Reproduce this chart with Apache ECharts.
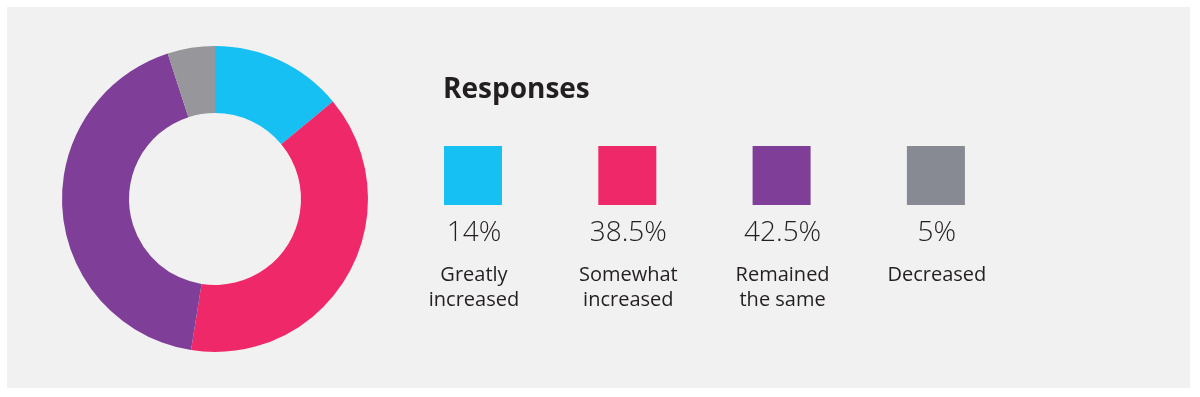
<!DOCTYPE html>
<html>
<head>
<meta charset="utf-8">
<title>Responses</title>
<script src="https://cdn.jsdelivr.net/npm/echarts@6/dist/echarts.min.js"></script>
<style>
    html, body { margin: 0; padding: 0; background: #ffffff; }
    #chart { width: 1200px; height: 397px; }
</style>
</head>
<body>
<div id="chart"></div>
<script>
// data
var categories = ["Greatly\nincreased", "Somewhat\nincreased", "Remained\nthe same", "Decreased"];
var shares = [14, 38.5, 42.5, 5];
var shareLabels = ["14%", "38.5%", "42.5%", "5%"];

// colours
var sliceColors = ["#17c0f2", "#ef2869", "#7f3f98", "#97979b"];
var keyColors = ["#17c0f2", "#ef2869", "#7f3f98", "#878a93"];
var inkColor = "#231f20";
var fontName = "'Open Sans', Lato, sans-serif";

var chart = echarts.init(document.getElementById("chart"));

var graphics = [
    {
        type: "rect",
        z: -10,
        silent: true,
        shape: { x: 7, y: 7, width: 1183, height: 381 },
        style: { fill: "#f1f1f1" }
    },
    {
        type: "text",
        left: 443,
        top: 76,
        style: {
            text: "Responses",
            fill: inkColor,
            font: "bold 28px " + fontName
        }
    }
];

// the key: square, percentage and name under each other
categories.forEach(function (name, i) {
    var x = 444 + i * 154.3;
    var cx = x + 29;
    graphics.push({
        type: "rect",
        shape: { x: x, y: 146, width: 58, height: 59 },
        style: { fill: keyColors[i] }
    });
    graphics.push({
        type: "text",
        x: cx + 1,
        y: 233,
        style: {
            text: shareLabels[i],
            fill: inkColor,
            font: "300 28px " + fontName,
            textAlign: "center",
            textVerticalAlign: "middle"
        }
    });
    graphics.push({
        type: "text",
        x: cx + 1,
        y: 263,
        style: {
            text: name,
            fill: inkColor,
            font: "20px " + fontName,
            lineHeight: 25,
            textAlign: "center",
            textVerticalAlign: "top"
        }
    });
});

chart.setOption({
    animation: false,
    graphic: graphics,
    series: [
        {
            type: "pie",
            center: [215, 199],
            radius: [86, 153],
            startAngle: 90,
            clockwise: true,
            silent: true,
            label: { show: false },
            labelLine: { show: false },
            itemStyle: { borderWidth: 0 },
            data: categories.map(function (name, i) {
                return {
                    name: name,
                    value: shares[i],
                    itemStyle: { color: sliceColors[i] }
                };
            })
        }
    ]
});
</script>
</body>
</html>
